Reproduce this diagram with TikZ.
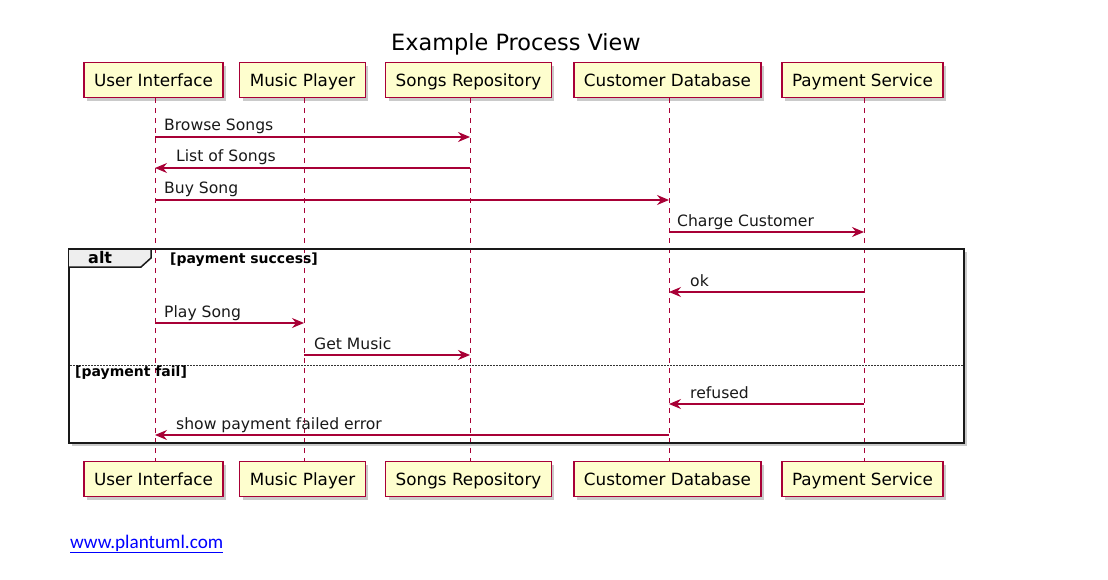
\documentclass[tikz,border=0pt]{standalone}
\usepackage{fontspec}
\setmainfont{DejaVu Sans}
\newfontfamily\carl{Carlito}
\usetikzlibrary{arrows.meta,shadows}
\definecolor{pu}{HTML}{A80036}
\definecolor{pfill}{HTML}{FEFECE}
\definecolor{tabfill}{HTML}{EEEEEE}
\tikzset{
  part/.style={draw=pu, fill=pfill, line width=1.2pt, inner xsep=10pt, inner ysep=0pt,
    text height=14.5pt, text depth=1.5pt,
    minimum height=35pt, font=\fontsize{16.8}{20}\selectfont,
    drop shadow={shadow xshift=3pt, shadow yshift=-3pt, opacity=0.35, fill=black!60}},
  life/.style={draw=pu, line width=1pt, dash pattern=on 5pt off 5pt},
  msg/.style={draw=pu, line width=1.1pt, -{Stealth[length=12pt, width=10pt, inset=4pt]}},
  lbl/.style={inner sep=0pt, font=\fontsize{15.6}{18}\selectfont, text=black!90},
  guard/.style={inner sep=0pt, font=\fontsize{14}{16}\bfseries\selectfont},
}
\begin{document}
\begin{tikzpicture}[x=1pt, y=-1pt]
\useasboundingbox (0,0) rectangle (1108,580);
% lifeline x positions
\coordinate (ui) at (155,0);
\coordinate (mp) at (304,0);
\coordinate (sr) at (470,0);
\coordinate (cd) at (669,0);
\coordinate (ps) at (864,0);
\coordinate (top) at (0,62);
\coordinate (bot) at (0,461);
% title
\node[inner sep=0pt, anchor=base, font=\fontsize{22.4}{26}\selectfont] (title) at (516,51) {Example Process View};
% participants
\foreach \p/\t in {ui/User Interface, mp/Music Player, sr/Songs Repository, cd/Customer Database, ps/Payment Service}{
  \node[part, anchor=north] (\p T) at ([xshift=-1.5pt]\p |- top) {\t};
  \node[part, anchor=north] (\p B) at ([xshift=-1.5pt]\p |- bot) {\t};
}
% alt frame
\coordinate (fA) at (69,249);
\coordinate (fB) at (964,443);
\draw[line width=2pt, black!90, drop shadow={shadow xshift=3pt, shadow yshift=-3pt, opacity=0.35, fill=black!60}, fill=white] (fA) rectangle (fB);
% lifelines
\foreach \p in {ui,mp,sr,cd,ps}{
  \draw[life] (\p T.south -| \p) -- (\p B.north -| \p);
}
\draw[line width=2pt, black!90] (fA) rectangle (fB);
\draw[line width=1.5pt, black!90, fill=tabfill] (fA) -- (151,249) -- (151,258) -- (141,267) -- (69,267);
\node[inner sep=0pt, anchor=base west, font=\fontsize{16}{18}\bfseries\selectfont] (alt) at (88,263) {alt};
\node[guard, anchor=base west] (g1) at (170,263) {[payment success]};
\coordinate (sepL) at (70,365);
\coordinate (sepR) at (963,365);
\draw[black!80, line width=0.8pt, dash pattern=on 1.5pt off 1.5pt] (sepL) -- (sepR);
\node[guard, anchor=base west] (g2) at (75,376) {[payment fail]};
% messages
\foreach \n/\a/\b/\y/\dx/\t in {
  1/ui/sr/137/9/Browse Songs,
  2/sr/ui/168/21/List of Songs,
  3/ui/cd/200/9/Buy Song,
  4/cd/ps/232/8/Charge Customer,
  5/ps/cd/292/21/ok,
  6/ui/mp/323/9/Play Song,
  7/mp/sr/355/10/Get Music,
  8/ps/cd/404/21/refused,
  9/cd/ui/435/21/show payment failed error}{
  \coordinate (r\n) at (0,\y);
  \draw[msg] (\a |- r\n) -- (\b |- r\n);
  \ifnum\dx>15
    \node[lbl, anchor=base west] (l\n) at ([xshift=\dx pt, yshift=6pt]\b |- r\n) {\t};
  \else
    \node[lbl, anchor=base west] (l\n) at ([xshift=\dx pt, yshift=6pt]\a |- r\n) {\t};
  \fi
}
% link
\node[inner sep=0pt, anchor=base west, text={rgb,255:red,0;green,0;blue,255}, font=\carl\fontsize{19.2}{22}\selectfont] (link) at (70,548) {\underline{www.plantuml.com}};
\end{tikzpicture}
\end{document}
